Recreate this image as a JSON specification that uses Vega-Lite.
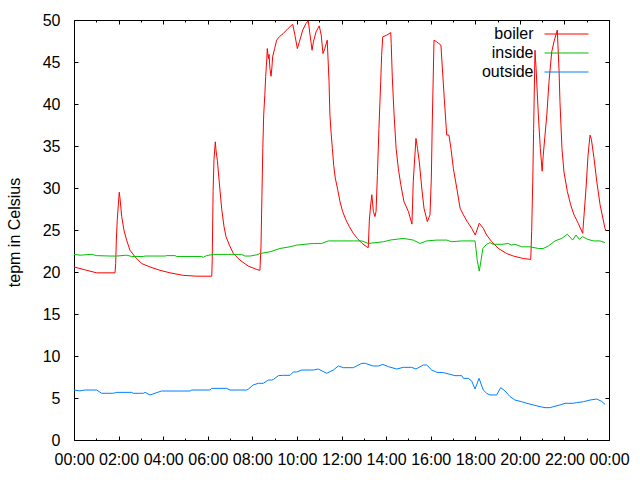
{
  "$schema": "https://vega.github.io/schema/vega-lite/v6.json",
  "autosize": "none",
  "width": 535,
  "height": 420,
  "padding": {"left": 74, "top": 20, "right": 31, "bottom": 40},
  "background": "white",
  "config": {
    "view": {"stroke": "black", "strokeWidth": 1},
    "font": "Liberation Sans",
    "axis": {"domain": false, "grid": false, "tickColor": "black", "labelColor": "black", "titleColor": "black", "labelFont": "Liberation Sans", "titleFont": "Liberation Sans", "labelFontSize": 16, "titleFontSize": 16, "titleFontWeight": "normal"},
    "legend": {"labelFont": "Liberation Sans", "labelFontSize": 16, "labelColor": "black"}
  },
  "data": {"values": [
    {"series":"boiler","t":0.00,"v":20.6},{"series":"boiler","t":0.57,"v":20.2},{"series":"boiler","t":1.02,"v":19.9},{"series":"boiler","t":1.84,"v":19.9},{"series":"boiler","t":1.87,"v":21.0},{"series":"boiler","t":1.90,"v":23.8},{"series":"boiler","t":1.94,"v":26.2},{"series":"boiler","t":2.03,"v":29.5},{"series":"boiler","t":2.06,"v":28.9},{"series":"boiler","t":2.14,"v":26.6},{"series":"boiler","t":2.24,"v":25.0},{"series":"boiler","t":2.36,"v":23.8},{"series":"boiler","t":2.51,"v":22.6},{"series":"boiler","t":2.74,"v":21.8},{"series":"boiler","t":3.04,"v":21.0},{"series":"boiler","t":3.41,"v":20.6},{"series":"boiler","t":3.86,"v":20.2},{"series":"boiler","t":4.31,"v":19.9},{"series":"boiler","t":4.90,"v":19.6},{"series":"boiler","t":5.50,"v":19.5},{"series":"boiler","t":6.18,"v":19.5},{"series":"boiler","t":6.20,"v":21.4},{"series":"boiler","t":6.24,"v":29.6},{"series":"boiler","t":6.28,"v":33.4},{"series":"boiler","t":6.34,"v":35.5},{"series":"boiler","t":6.37,"v":34.5},{"series":"boiler","t":6.43,"v":33.3},{"series":"boiler","t":6.52,"v":30.6},{"series":"boiler","t":6.63,"v":27.4},{"series":"boiler","t":6.73,"v":25.4},{"series":"boiler","t":6.82,"v":24.2},{"series":"boiler","t":6.97,"v":23.2},{"series":"boiler","t":7.15,"v":22.2},{"series":"boiler","t":7.45,"v":21.4},{"series":"boiler","t":7.82,"v":20.7},{"series":"boiler","t":8.20,"v":20.3},{"series":"boiler","t":8.34,"v":20.2},{"series":"boiler","t":8.39,"v":23.2},{"series":"boiler","t":8.43,"v":29.0},{"series":"boiler","t":8.47,"v":34.7},{"series":"boiler","t":8.51,"v":38.7},{"series":"boiler","t":8.56,"v":41.1},{"series":"boiler","t":8.60,"v":43.3},{"series":"boiler","t":8.65,"v":45.4},{"series":"boiler","t":8.67,"v":46.6},{"series":"boiler","t":8.72,"v":45.4},{"series":"boiler","t":8.75,"v":45.9},{"series":"boiler","t":8.79,"v":44.2},{"series":"boiler","t":8.84,"v":43.3},{"series":"boiler","t":8.88,"v":44.4},{"series":"boiler","t":8.91,"v":45.6},{"series":"boiler","t":9.00,"v":46.6},{"series":"boiler","t":9.09,"v":47.6},{"series":"boiler","t":9.21,"v":48.0},{"series":"boiler","t":9.39,"v":48.4},{"series":"boiler","t":9.61,"v":49.0},{"series":"boiler","t":9.81,"v":49.5},{"series":"boiler","t":9.91,"v":48.2},{"series":"boiler","t":10.02,"v":46.6},{"series":"boiler","t":10.11,"v":47.4},{"series":"boiler","t":10.26,"v":48.8},{"series":"boiler","t":10.41,"v":49.6},{"series":"boiler","t":10.51,"v":49.9},{"series":"boiler","t":10.59,"v":48.2},{"series":"boiler","t":10.68,"v":46.4},{"series":"boiler","t":10.74,"v":47.4},{"series":"boiler","t":10.86,"v":48.6},{"series":"boiler","t":11.00,"v":49.3},{"series":"boiler","t":11.09,"v":48.2},{"series":"boiler","t":11.17,"v":46.0},{"series":"boiler","t":11.25,"v":46.6},{"series":"boiler","t":11.36,"v":47.6},{"series":"boiler","t":11.44,"v":42.7},{"series":"boiler","t":11.48,"v":38.7},{"series":"boiler","t":11.53,"v":36.7},{"series":"boiler","t":11.59,"v":34.7},{"series":"boiler","t":11.65,"v":32.7},{"series":"boiler","t":11.72,"v":31.2},{"series":"boiler","t":11.83,"v":29.8},{"series":"boiler","t":11.93,"v":28.4},{"series":"boiler","t":12.05,"v":27.2},{"series":"boiler","t":12.20,"v":26.2},{"series":"boiler","t":12.35,"v":25.4},{"series":"boiler","t":12.53,"v":24.6},{"series":"boiler","t":12.71,"v":24.0},{"series":"boiler","t":12.93,"v":23.4},{"series":"boiler","t":13.13,"v":23.0},{"series":"boiler","t":13.20,"v":22.9},{"series":"boiler","t":13.25,"v":26.2},{"series":"boiler","t":13.31,"v":28.0},{"series":"boiler","t":13.36,"v":29.2},{"series":"boiler","t":13.43,"v":27.2},{"series":"boiler","t":13.50,"v":26.6},{"series":"boiler","t":13.55,"v":27.2},{"series":"boiler","t":13.61,"v":31.5},{"series":"boiler","t":13.68,"v":37.1},{"series":"boiler","t":13.76,"v":42.7},{"series":"boiler","t":13.80,"v":45.8},{"series":"boiler","t":13.85,"v":48.0},{"series":"boiler","t":14.03,"v":48.2},{"series":"boiler","t":14.21,"v":48.5},{"series":"boiler","t":14.23,"v":47.2},{"series":"boiler","t":14.28,"v":43.1},{"series":"boiler","t":14.36,"v":38.7},{"series":"boiler","t":14.45,"v":34.7},{"series":"boiler","t":14.55,"v":32.3},{"series":"boiler","t":14.66,"v":30.4},{"series":"boiler","t":14.80,"v":28.4},{"series":"boiler","t":15.00,"v":27.2},{"series":"boiler","t":15.16,"v":25.7},{"series":"boiler","t":15.22,"v":30.8},{"series":"boiler","t":15.34,"v":35.9},{"series":"boiler","t":15.41,"v":34.7},{"series":"boiler","t":15.49,"v":33.1},{"series":"boiler","t":15.60,"v":30.0},{"series":"boiler","t":15.70,"v":27.6},{"series":"boiler","t":15.85,"v":26.0},{"series":"boiler","t":15.97,"v":26.8},{"series":"boiler","t":16.03,"v":31.2},{"series":"boiler","t":16.07,"v":37.5},{"series":"boiler","t":16.15,"v":47.6},{"series":"boiler","t":16.27,"v":47.4},{"series":"boiler","t":16.46,"v":47.0},{"series":"boiler","t":16.61,"v":40.7},{"series":"boiler","t":16.72,"v":36.3},{"series":"boiler","t":16.82,"v":36.3},{"series":"boiler","t":16.91,"v":34.7},{"series":"boiler","t":17.02,"v":32.3},{"series":"boiler","t":17.17,"v":30.0},{"series":"boiler","t":17.32,"v":27.6},{"series":"boiler","t":17.47,"v":26.8},{"series":"boiler","t":17.64,"v":26.0},{"series":"boiler","t":17.84,"v":25.2},{"series":"boiler","t":18.00,"v":24.4},{"series":"boiler","t":18.18,"v":25.8},{"series":"boiler","t":18.36,"v":25.2},{"series":"boiler","t":18.51,"v":24.4},{"series":"boiler","t":18.74,"v":23.6},{"series":"boiler","t":19.04,"v":22.8},{"series":"boiler","t":19.41,"v":22.2},{"series":"boiler","t":19.71,"v":21.9},{"series":"boiler","t":20.16,"v":21.6},{"series":"boiler","t":20.49,"v":21.5},{"series":"boiler","t":20.53,"v":24.8},{"series":"boiler","t":20.58,"v":30.8},{"series":"boiler","t":20.62,"v":37.1},{"series":"boiler","t":20.68,"v":46.4},{"series":"boiler","t":20.73,"v":44.2},{"series":"boiler","t":20.83,"v":38.7},{"series":"boiler","t":20.92,"v":34.7},{"series":"boiler","t":21.00,"v":32.0},{"series":"boiler","t":21.05,"v":33.9},{"series":"boiler","t":21.21,"v":38.7},{"series":"boiler","t":21.31,"v":42.7},{"series":"boiler","t":21.43,"v":46.2},{"series":"boiler","t":21.53,"v":47.4},{"series":"boiler","t":21.68,"v":48.8},{"series":"boiler","t":21.76,"v":43.9},{"series":"boiler","t":21.80,"v":40.3},{"series":"boiler","t":21.89,"v":34.7},{"series":"boiler","t":21.98,"v":31.9},{"series":"boiler","t":22.13,"v":29.6},{"series":"boiler","t":22.28,"v":28.0},{"series":"boiler","t":22.43,"v":26.8},{"series":"boiler","t":22.62,"v":25.8},{"series":"boiler","t":22.82,"v":24.6},{"series":"boiler","t":22.97,"v":30.0},{"series":"boiler","t":23.06,"v":33.9},{"series":"boiler","t":23.15,"v":36.3},{"series":"boiler","t":23.21,"v":35.8},{"series":"boiler","t":23.33,"v":33.5},{"series":"boiler","t":23.45,"v":30.8},{"series":"boiler","t":23.60,"v":28.0},{"series":"boiler","t":23.82,"v":25.2},{"series":"boiler","t":23.87,"v":24.9},
    {"series":"inside","t":0.00,"v":22.1},{"series":"inside","t":0.27,"v":22.0},{"series":"inside","t":0.79,"v":22.1},{"series":"inside","t":1.02,"v":21.95},{"series":"inside","t":1.62,"v":21.9},{"series":"inside","t":1.92,"v":21.9},{"series":"inside","t":2.36,"v":22.0},{"series":"inside","t":2.59,"v":21.85},{"series":"inside","t":3.11,"v":21.85},{"series":"inside","t":3.19,"v":21.9},{"series":"inside","t":4.08,"v":21.9},{"series":"inside","t":4.16,"v":21.95},{"series":"inside","t":4.53,"v":21.95},{"series":"inside","t":4.61,"v":21.85},{"series":"inside","t":5.73,"v":21.85},{"series":"inside","t":5.80,"v":21.75},{"series":"inside","t":5.95,"v":21.95},{"series":"inside","t":6.25,"v":22.1},{"series":"inside","t":7.52,"v":22.1},{"series":"inside","t":7.67,"v":21.9},{"series":"inside","t":7.90,"v":21.9},{"series":"inside","t":8.20,"v":22.05},{"series":"inside","t":8.34,"v":22.2},{"series":"inside","t":8.79,"v":22.4},{"series":"inside","t":9.24,"v":22.8},{"series":"inside","t":9.69,"v":23.0},{"series":"inside","t":9.99,"v":23.2},{"series":"inside","t":10.36,"v":23.3},{"series":"inside","t":10.74,"v":23.4},{"series":"inside","t":11.11,"v":23.4},{"series":"inside","t":11.41,"v":23.7},{"series":"inside","t":11.93,"v":23.7},{"series":"inside","t":12.53,"v":23.7},{"series":"inside","t":12.91,"v":23.7},{"series":"inside","t":13.20,"v":23.4},{"series":"inside","t":13.55,"v":23.5},{"series":"inside","t":13.88,"v":23.6},{"series":"inside","t":14.18,"v":23.8},{"series":"inside","t":14.77,"v":24.0},{"series":"inside","t":15.22,"v":23.8},{"series":"inside","t":15.52,"v":23.4},{"series":"inside","t":15.82,"v":23.7},{"series":"inside","t":16.27,"v":23.8},{"series":"inside","t":16.72,"v":23.8},{"series":"inside","t":16.94,"v":23.6},{"series":"inside","t":17.39,"v":23.7},{"series":"inside","t":17.99,"v":23.7},{"series":"inside","t":18.03,"v":22.8},{"series":"inside","t":18.09,"v":21.4},{"series":"inside","t":18.18,"v":20.1},{"series":"inside","t":18.26,"v":21.4},{"series":"inside","t":18.34,"v":22.8},{"series":"inside","t":18.51,"v":23.3},{"series":"inside","t":18.66,"v":23.5},{"series":"inside","t":18.80,"v":23.3},{"series":"inside","t":19.25,"v":23.3},{"series":"inside","t":19.48,"v":23.4},{"series":"inside","t":19.64,"v":23.2},{"series":"inside","t":19.78,"v":23.3},{"series":"inside","t":20.08,"v":23.0},{"series":"inside","t":20.46,"v":23.0},{"series":"inside","t":20.83,"v":22.8},{"series":"inside","t":21.05,"v":22.8},{"series":"inside","t":21.28,"v":23.1},{"series":"inside","t":21.43,"v":23.4},{"series":"inside","t":21.58,"v":23.7},{"series":"inside","t":21.88,"v":24.0},{"series":"inside","t":22.13,"v":24.5},{"series":"inside","t":22.37,"v":23.8},{"series":"inside","t":22.52,"v":24.4},{"series":"inside","t":22.67,"v":23.9},{"series":"inside","t":22.82,"v":24.2},{"series":"inside","t":23.03,"v":23.9},{"series":"inside","t":23.30,"v":23.7},{"series":"inside","t":23.60,"v":23.7},{"series":"inside","t":23.82,"v":23.5},
    {"series":"outside","t":0.00,"v":5.95},{"series":"outside","t":0.27,"v":5.85},{"series":"outside","t":0.49,"v":5.95},{"series":"outside","t":1.02,"v":5.95},{"series":"outside","t":1.24,"v":5.56},{"series":"outside","t":1.76,"v":5.56},{"series":"outside","t":1.92,"v":5.67},{"series":"outside","t":2.59,"v":5.67},{"series":"outside","t":2.66,"v":5.56},{"series":"outside","t":3.11,"v":5.56},{"series":"outside","t":3.19,"v":5.67},{"series":"outside","t":3.41,"v":5.36},{"series":"outside","t":3.78,"v":5.7},{"series":"outside","t":3.93,"v":5.83},{"series":"outside","t":5.20,"v":5.83},{"series":"outside","t":5.28,"v":5.95},{"series":"outside","t":6.10,"v":5.95},{"series":"outside","t":6.18,"v":6.15},{"series":"outside","t":6.85,"v":6.15},{"series":"outside","t":7.00,"v":5.95},{"series":"outside","t":7.75,"v":5.95},{"series":"outside","t":7.82,"v":6.05},{"series":"outside","t":8.04,"v":6.55},{"series":"outside","t":8.27,"v":6.75},{"series":"outside","t":8.49,"v":6.75},{"series":"outside","t":8.72,"v":7.14},{"series":"outside","t":8.87,"v":7.14},{"series":"outside","t":8.94,"v":7.2},{"series":"outside","t":9.17,"v":7.66},{"series":"outside","t":9.39,"v":7.7},{"series":"outside","t":9.69,"v":7.7},{"series":"outside","t":9.84,"v":8.1},{"series":"outside","t":9.99,"v":8.1},{"series":"outside","t":10.22,"v":8.33},{"series":"outside","t":10.74,"v":8.33},{"series":"outside","t":10.96,"v":8.45},{"series":"outside","t":11.34,"v":7.94},{"series":"outside","t":11.63,"v":8.33},{"series":"outside","t":11.86,"v":8.81},{"series":"outside","t":12.08,"v":8.61},{"series":"outside","t":12.53,"v":8.61},{"series":"outside","t":12.91,"v":9.13},{"series":"outside","t":13.06,"v":9.13},{"series":"outside","t":13.28,"v":8.93},{"series":"outside","t":13.43,"v":8.81},{"series":"outside","t":13.65,"v":8.81},{"series":"outside","t":13.85,"v":9.0},{"series":"outside","t":14.10,"v":8.73},{"series":"outside","t":14.48,"v":8.45},{"series":"outside","t":14.77,"v":8.65},{"series":"outside","t":15.15,"v":8.65},{"series":"outside","t":15.34,"v":8.45},{"series":"outside","t":15.67,"v":8.93},{"series":"outside","t":15.82,"v":8.93},{"series":"outside","t":16.05,"v":8.33},{"series":"outside","t":16.27,"v":8.06},{"series":"outside","t":16.57,"v":8.02},{"series":"outside","t":16.87,"v":7.82},{"series":"outside","t":17.09,"v":7.66},{"series":"outside","t":17.39,"v":7.66},{"series":"outside","t":17.47,"v":7.34},{"series":"outside","t":17.69,"v":7.34},{"series":"outside","t":17.84,"v":7.02},{"series":"outside","t":17.99,"v":6.07},{"series":"outside","t":18.17,"v":7.34},{"series":"outside","t":18.36,"v":5.95},{"series":"outside","t":18.51,"v":5.56},{"series":"outside","t":18.66,"v":5.36},{"series":"outside","t":18.96,"v":5.36},{"series":"outside","t":19.14,"v":6.23},{"series":"outside","t":19.34,"v":5.83},{"series":"outside","t":19.56,"v":5.16},{"series":"outside","t":19.78,"v":4.76},{"series":"outside","t":20.08,"v":4.56},{"series":"outside","t":20.31,"v":4.37},{"series":"outside","t":20.61,"v":4.17},{"series":"outside","t":20.91,"v":3.97},{"series":"outside","t":21.13,"v":3.85},{"series":"outside","t":21.36,"v":3.85},{"series":"outside","t":21.50,"v":3.97},{"series":"outside","t":21.80,"v":4.17},{"series":"outside","t":22.03,"v":4.37},{"series":"outside","t":22.40,"v":4.37},{"series":"outside","t":22.55,"v":4.45},{"series":"outside","t":22.85,"v":4.56},{"series":"outside","t":23.15,"v":4.76},{"series":"outside","t":23.45,"v":4.88},{"series":"outside","t":23.67,"v":4.6},{"series":"outside","t":23.82,"v":4.25}
  ]},
  "resolve": {"axis": {"x": "independent", "y": "independent"}},
  "layer": [
    {
      "mark": {"type": "line", "strokeWidth": 1, "interpolate": "linear"},
      "encoding": {
        "x": {"field": "t", "type": "quantitative", "scale": {"domain": [0, 24], "nice": false, "zero": false},
              "axis": {"orient": "bottom", "title": null, "values": [0,2,4,6,8,10,12,14,16,18,20,22,24], "tickSize": -4, "labelPadding": 15, "labelExpr": "(datum.value % 24 < 10 ? '0' : '') + (datum.value % 24) + ':00'", "labelFlush": false, "labelOverlap": false}},
        "y": {"field": "v", "type": "quantitative", "scale": {"domain": [0, 50], "nice": false, "zero": false},
              "axis": {"orient": "left", "title": "tepm in Celsius", "values": [0,5,10,15,20,25,30,35,40,45,50], "tickSize": -4, "labelPadding": 18, "titlePadding": 20, "titleY": 212, "labelFlush": false, "labelOverlap": false}},
        "color": {"field": "series", "type": "nominal",
                  "scale": {"domain": ["boiler", "inside", "outside"], "range": ["#ff0000", "#00c000", "#0080ff"]},
                  "legend": {"title": null, "orient": "none", "legendX": 484.5, "legendY": 6, "padding": 0, "symbolType": "M-4,0H4", "symbolSize": 121, "symbolStrokeWidth": 1, "symbolFillColor": "transparent", "labelAlign": "right", "labelOffset": -41, "rowPadding": 3, "labelFontSize": 16}}
      }
    },
    {
      "mark": {"type": "line", "strokeOpacity": 0},
      "encoding": {
        "detail": {"field": "series"},
        "x": {"field": "t", "type": "quantitative", "axis": {"orient": "bottom", "title": null, "values": [1,3,5,7,9,11,13,15,17,19,21,23], "tickSize": -2, "labels": false}},
        "y": {"field": "v", "type": "quantitative", "axis": {"orient": "right", "title": null, "values": [0,5,10,15,20,25,30,35,40,45,50], "tickSize": -4, "labels": false}}
      }
    },
    {
      "mark": {"type": "line", "strokeOpacity": 0},
      "encoding": {
        "detail": {"field": "series"},
        "x": {"field": "t", "type": "quantitative", "axis": {"orient": "top", "title": null, "values": [0,2,4,6,8,10,12,14,16,18,20,22,24], "tickSize": -4, "labels": false}},
        "y": {"field": "v", "type": "quantitative", "axis": null}
      }
    },
    {
      "mark": {"type": "line", "strokeOpacity": 0},
      "encoding": {
        "detail": {"field": "series"},
        "x": {"field": "t", "type": "quantitative", "axis": {"orient": "top", "title": null, "values": [1,3,5,7,9,11,13,15,17,19,21,23], "tickSize": -2, "labels": false}},
        "y": {"field": "v", "type": "quantitative", "axis": null}
      }
    }
  ]
}
